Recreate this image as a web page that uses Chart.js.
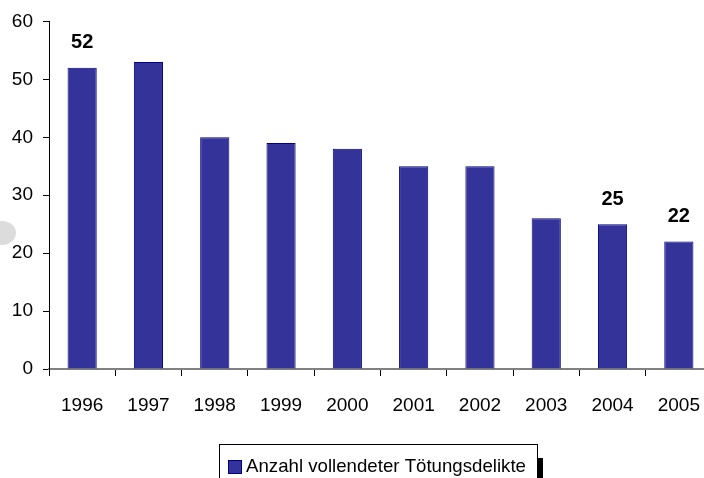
<!DOCTYPE html>
<html>
<head>
<meta charset="utf-8">
<script src="https://cdn.jsdelivr.net/npm/chart.js@4"></script>
<style>
  html, body { margin: 0; padding: 0; background: #fff; overflow: hidden; }
  #wrap { width: 720px; height: 478px; }
</style>
</head>
<body>
<div id="wrap"><canvas id="toetungChart" width="720" height="478"></canvas></div>
<script>
// Daten
const jahre = ['1996', '1997', '1998', '1999', '2000', '2001', '2002', '2003', '2004', '2005'];
const delikte = [52, 53, 40, 39, 38, 35, 35, 26, 25, 22];
const beschriftet = ['1996', '2004', '2005']; // Jahre mit Wertbeschriftung
const yTicks = [0, 10, 20, 30, 40, 50, 60];
const legendeText = 'Anzahl vollendeter Tötungsdelikte';

const schrift = 'Arial, "Liberation Sans", sans-serif';

// Werte über ausgewählten Balken
const wertLabels = {
    id: 'wertLabels',
    afterDatasetsDraw(chart) {
        const ctx = chart.ctx;
        const meta = chart.getDatasetMeta(0);
        ctx.save();
        ctx.font = 'bold 20px ' + schrift;
        ctx.fillStyle = '#000';
        ctx.textAlign = 'center';
        ctx.textBaseline = 'middle';
        meta.data.forEach((bar, i) => {
            if (beschriftet.includes(jahre[i])) {
                ctx.fillText(String(delikte[i]), bar.x, bar.y - 25);
            }
        });
        ctx.restore();
    }
};

// Legende mit Rahmen und Schatten
const legendeBox = {
    id: 'legendeBox',
    afterDraw(chart) {
        const ctx = chart.ctx;
        ctx.save();
        // grauer Fleck links
        ctx.fillStyle = '#dcdcdc';
        ctx.beginPath();
        ctx.ellipse(2, 233, 14, 12, 0, 0, Math.PI * 2);
        ctx.fill();

        ctx.fillStyle = '#000';
        ctx.fillRect(537, 458, 6, 20);
        ctx.strokeStyle = '#000';
        ctx.lineWidth = 1;
        ctx.strokeRect(219.5, 444.5, 318, 40);
        ctx.fillStyle = '#333399';
        ctx.fillRect(228, 460, 14, 14);
        ctx.strokeStyle = '#000080';
        ctx.strokeRect(228.5, 460.5, 13, 13);
        ctx.fillStyle = '#000';
        ctx.font = '19px ' + schrift;
        ctx.textAlign = 'left';
        ctx.textBaseline = 'middle';
        ctx.fillText(legendeText, 246, 467, 280);
        ctx.restore();
    }
};

const chart = new Chart(document.getElementById('toetungChart').getContext('2d'), {
    type: 'bar',
    data: {
        labels: jahre,
        datasets: [{
            label: legendeText,
            data: delikte,
            backgroundColor: '#333399',
            borderColor: '#000080',
            borderWidth: 1,
            barPercentage: 0.44,
            categoryPercentage: 1
        }]
    },
    options: {
        responsive: false,
        animation: false,
        layout: { padding: { top: 21, right: 8, left: 0, bottom: 0 } },
        plugins: {
            legend: { display: false },
            tooltip: { enabled: false }
        },
        scales: {
            x: {
                afterFit: s => { s.height = 109; },
                grid: {
                    offset: true,
                    drawOnChartArea: false,
                    tickLength: 7,
                    color: '#000',
                    lineWidth: 1
                },
                border: { color: '#808080', width: 2 },
                ticks: {
                    color: '#000',
                    font: { family: schrift, size: 19 },
                    padding: 18,
                    maxRotation: 0
                }
            },
            y: {
                min: 0,
                max: 60,
                afterFit: s => { s.width = 49; },
                afterBuildTicks: s => { s.ticks = yTicks.map(v => ({ value: v })); },
                grid: {
                    drawOnChartArea: false,
                    tickLength: 6,
                    color: '#000'
                },
                border: { color: '#000', width: 1 },
                ticks: {
                    color: '#000',
                    font: { family: schrift, size: 19 },
                    padding: 10
                }
            }
        }
    },
    plugins: [wertLabels, legendeBox]
});
</script>
</body>
</html>
